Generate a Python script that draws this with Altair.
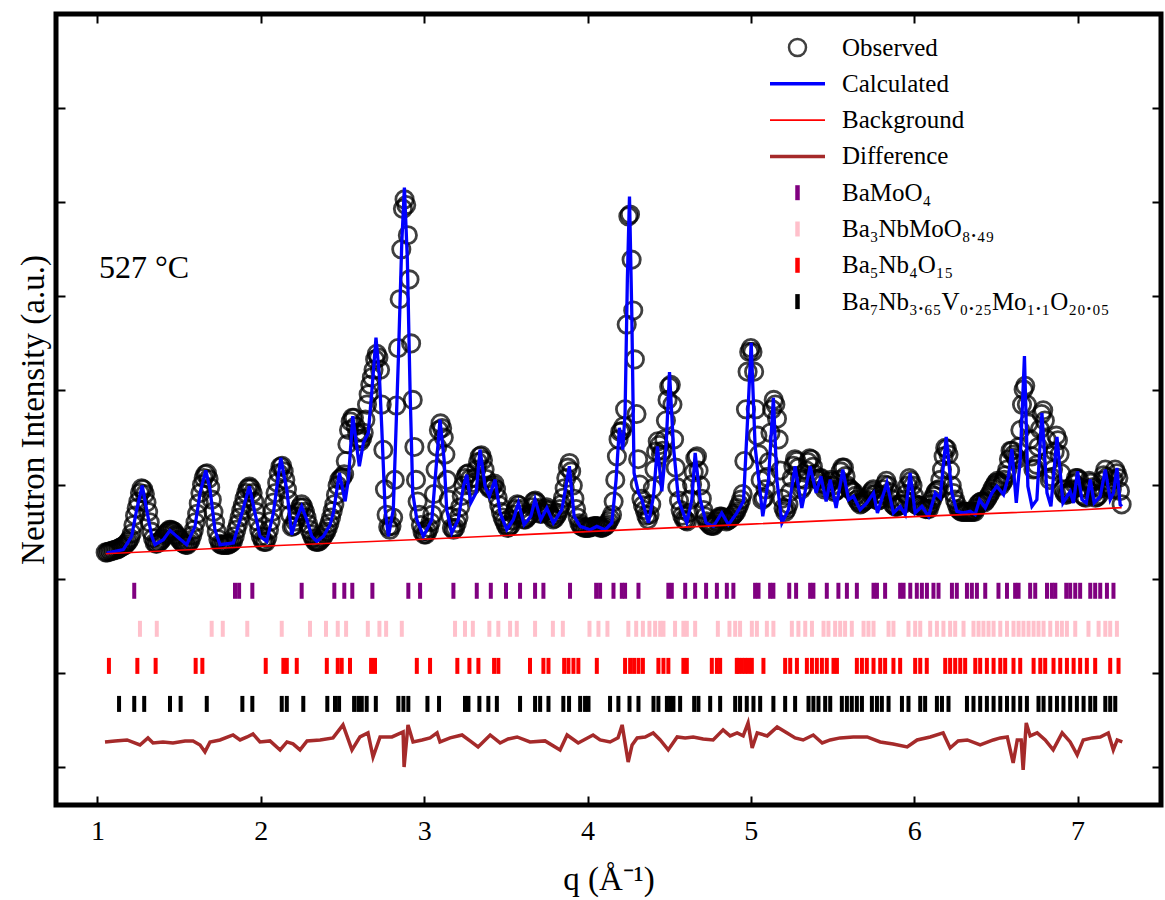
import altair as alt
import numpy as np
import pandas as pd

# ---------------------------------------------------------------------------
# Rietveld refinement of the 527 °C neutron pattern
# ---------------------------------------------------------------------------

# Observed intensity on the regular q grid of the measurement
Q_START = 1.05
Q_STEP = 0.01
OBS_I = [
    2.28, 2.28, 2.29, 2.29, 2.30, 2.30, 2.31, 2.31, 2.32, 2.33,
    2.34, 2.35, 2.36, 2.38, 2.40, 2.43, 2.48, 2.57, 2.67, 2.75,
    2.82, 2.91, 2.96, 2.95, 2.90, 2.81, 2.71, 2.60, 2.50, 2.43,
    2.38, 2.37, 2.38, 2.39, 2.41, 2.43, 2.46, 2.48, 2.50, 2.52,
    2.52, 2.51, 2.50, 2.47, 2.45, 2.42, 2.40, 2.38, 2.37, 2.36,
    2.36, 2.38, 2.41, 2.46, 2.52, 2.60, 2.69, 2.80, 2.91, 3.00,
    3.07, 3.11, 3.12, 3.06, 2.97, 2.84, 2.71, 2.60, 2.50, 2.42,
    2.37, 2.36, 2.36, 2.36, 2.36, 2.36, 2.37, 2.38, 2.40, 2.45,
    2.52, 2.58, 2.65, 2.72, 2.78, 2.85, 2.91, 2.96, 2.98, 2.96,
    2.91, 2.82, 2.71, 2.61, 2.52, 2.45, 2.41, 2.39, 2.39, 2.44,
    2.52, 2.61, 2.71, 2.81, 2.91, 3.02, 3.12, 3.19, 3.20, 3.14,
    3.05, 2.95, 2.84, 2.68, 2.55, 2.56, 2.61, 2.66, 2.71, 2.76,
    2.79, 2.76, 2.71, 2.65, 2.58, 2.52, 2.47, 2.43, 2.40, 2.39,
    2.39, 2.40, 2.42, 2.44, 2.47, 2.50, 2.54, 2.59, 2.65, 2.72,
    2.79, 2.89, 2.99, 3.05, 3.07, 3.08, 3.11, 3.25, 3.43, 3.58,
    3.67, 3.71, 3.71, 3.62, 3.55, 3.49, 3.46, 3.49, 3.55, 3.69,
    3.85, 3.96, 4.06, 4.14, 4.22, 4.33, 4.39, 4.35, 4.22, 3.85,
    3.37, 2.95, 2.68, 2.55, 2.52, 2.56, 2.65, 3.05, 3.84, 4.45,
    4.97, 5.50, 5.93, 6.03, 5.97, 5.65, 5.18, 4.50, 3.90, 3.40,
    3.05, 2.82, 2.68, 2.57, 2.50, 2.47, 2.47, 2.50, 2.54, 2.60,
    2.68, 2.90, 3.16, 3.40, 3.58, 3.65, 3.60, 3.50, 3.32, 3.05,
    2.84, 2.66, 2.54, 2.52, 2.54, 2.59, 2.65, 2.76, 2.88, 2.99,
    3.07, 3.11, 3.12, 3.06, 2.99, 3.02, 3.07, 3.16, 3.24, 3.30,
    3.31, 3.26, 3.16, 3.06, 2.99, 2.96, 2.96, 2.99, 3.01, 2.95,
    2.86, 2.78, 2.71, 2.65, 2.61, 2.57, 2.54, 2.55, 2.57, 2.62,
    2.68, 2.74, 2.79, 2.78, 2.74, 2.68, 2.63, 2.63, 2.65, 2.67,
    2.69, 2.76, 2.82, 2.83, 2.81, 2.75, 2.69, 2.69, 2.71, 2.74,
    2.76, 2.73, 2.69, 2.66, 2.63, 2.64, 2.67, 2.70, 2.74, 2.79,
    2.86, 2.96, 3.07, 3.18, 3.23, 3.14, 2.99, 2.85, 2.74, 2.65,
    2.59, 2.56, 2.55, 2.54, 2.54, 2.54, 2.54, 2.55, 2.55, 2.56,
    2.56, 2.56, 2.55, 2.54, 2.54, 2.55, 2.56, 2.58, 2.61, 2.64,
    2.68, 2.82, 3.05, 3.30, 3.48, 3.56, 3.57, 3.62, 3.80, 4.70,
    5.85, 5.87, 5.39, 4.85, 4.33, 3.75, 3.27, 3.00, 2.85, 2.78,
    2.73, 2.67, 2.63, 2.68, 2.79, 2.96, 3.16, 3.35, 3.46, 3.42,
    3.32, 3.36, 3.48, 3.68, 3.90, 4.04, 4.06, 3.85, 3.48, 3.18,
    2.97, 2.83, 2.73, 2.67, 2.63, 2.62, 2.61, 2.70, 2.84, 3.00,
    3.13, 3.28, 3.30, 3.15, 2.99, 2.85, 2.73, 2.66, 2.61, 2.59,
    2.57, 2.56, 2.56, 2.58, 2.61, 2.64, 2.66, 2.66, 2.65, 2.63,
    2.61, 2.62, 2.63, 2.65, 2.67, 2.69, 2.71, 2.75, 2.79, 2.84,
    2.90, 3.25, 3.80, 4.20, 4.41, 4.45, 4.41, 4.20, 3.80, 3.52,
    3.32, 3.05, 2.84, 2.86, 2.95, 3.08, 3.24, 3.55, 3.80, 3.90,
    3.85, 3.70, 3.48, 3.15, 2.85, 2.75, 2.71, 2.74, 2.79, 2.92,
    3.07, 3.20, 3.27, 3.25, 3.18, 3.06, 2.95, 2.98, 3.05, 3.15,
    3.24, 3.28, 3.27, 3.19, 3.11, 3.06, 3.05, 3.07, 3.07, 3.01,
    2.95, 2.97, 2.99, 3.03, 3.05, 2.99, 2.92, 2.93, 2.95, 3.05,
    3.14, 3.18, 3.18, 3.09, 2.99, 2.96, 2.95, 2.93, 2.92, 2.88,
    2.84, 2.81, 2.79, 2.80, 2.82, 2.83, 2.84, 2.87, 2.90, 2.93,
    2.95, 2.90, 2.84, 2.83, 2.84, 2.89, 2.95, 3.00, 3.04, 2.99,
    2.92, 2.85, 2.79, 2.77, 2.76, 2.77, 2.79, 2.79, 2.79, 2.84,
    2.90, 2.99, 3.07, 3.04, 2.99, 2.88, 2.79, 2.78, 2.78, 2.77,
    2.76, 2.75, 2.74, 2.74, 2.74, 2.79, 2.84, 2.88, 2.92, 2.94,
    2.95, 3.05, 3.16, 3.30, 3.39, 3.38, 3.32, 3.15, 2.99, 2.91,
    2.84, 2.79, 2.74, 2.72, 2.71, 2.71, 2.71, 2.71, 2.71, 2.71,
    2.71, 2.71, 2.71, 2.75, 2.79, 2.81, 2.82, 2.82, 2.81, 2.83,
    2.86, 2.89, 2.92, 2.96, 2.99, 3.02, 3.04, 3.02, 2.99, 3.02,
    3.05, 3.10, 3.16, 3.27, 3.36, 3.36, 3.32, 3.29, 3.27, 3.40,
    3.58, 3.85, 4.01, 4.05, 3.85, 3.65, 3.48, 3.30, 3.16, 3.17,
    3.21, 3.40, 3.59, 3.75, 3.79, 3.68, 3.48, 3.25, 3.05, 3.08,
    3.16, 3.35, 3.52, 3.47, 3.32, 3.12, 2.95, 2.91, 2.89, 2.90,
    2.92, 2.94, 2.95, 3.01, 3.07, 3.07, 3.05, 2.97, 2.89, 2.87,
    2.86, 2.95, 3.04, 3.02, 2.97, 2.91, 2.86, 2.87, 2.89, 2.96,
    3.04, 3.10, 3.16, 3.08, 2.99, 2.97, 2.95, 3.05, 3.16, 3.12,
    3.07, 2.93, 2.79,
]

# Calculated profile
CALC_Q = [
    1.056, 1.158, 1.209, 1.240, 1.274, 1.301, 1.332, 1.352, 1.403, 1.444,
    1.485, 1.546, 1.597, 1.628, 1.663, 1.689, 1.719, 1.750, 1.832, 1.873,
    1.930, 1.964, 1.995, 2.036, 2.077, 2.122, 2.159, 2.189, 2.216, 2.250,
    2.281, 2.312, 2.342, 2.383, 2.424, 2.444, 2.481, 2.516, 2.536, 2.563,
    2.587, 2.603, 2.628, 2.658, 2.679, 2.705, 2.726, 2.740, 2.761, 2.781,
    2.811, 2.842, 2.863, 2.879, 2.897, 2.914, 2.930, 2.955, 2.995, 3.047,
    3.077, 3.097, 3.122, 3.138, 3.169, 3.209, 3.240, 3.261, 3.285, 3.318,
    3.342, 3.373, 3.399, 3.434, 3.465, 3.506, 3.546, 3.577, 3.612, 3.653,
    3.679, 3.714, 3.751, 3.791, 3.843, 3.889, 3.918, 3.955, 4.016, 4.057,
    4.108, 4.149, 4.175, 4.195, 4.216, 4.230, 4.244, 4.257, 4.271, 4.285,
    4.312, 4.333, 4.373, 4.404, 4.428, 4.455, 4.481, 4.502, 4.526, 4.557,
    4.608, 4.639, 4.659, 4.690, 4.726, 4.771, 4.822, 4.863, 4.914, 4.955,
    4.982, 5.002, 5.026, 5.073, 5.108, 5.138, 5.159, 5.190, 5.230, 5.271,
    5.312, 5.363, 5.400, 5.429, 5.461, 5.486, 5.522, 5.563, 5.598, 5.628,
    5.669, 5.710, 5.751, 5.775, 5.833, 5.873, 5.914, 5.945, 5.975, 6.006,
    6.047, 6.088, 6.129, 6.159, 6.196, 6.231, 6.261, 6.302, 6.343, 6.373,
    6.400, 6.435, 6.476, 6.506, 6.547, 6.577, 6.598, 6.625, 6.649, 6.675,
    6.696, 6.721, 6.751, 6.782, 6.813, 6.837, 6.874, 6.911, 6.955, 6.975,
    7.000, 7.027, 7.053, 7.078, 7.102, 7.139, 7.170, 7.200, 7.220, 7.241,
    7.261, 7.272,
]
CALC_I = [
    2.273, 2.309, 2.450, 2.734, 2.989, 2.734, 2.450, 2.362, 2.415, 2.514,
    2.450, 2.362, 2.556, 2.912, 3.152, 2.947, 2.521, 2.362, 2.380, 2.628,
    2.982, 2.699, 2.450, 2.397, 2.699, 3.284, 2.947, 2.468, 2.628, 2.769,
    2.628, 2.450, 2.397, 2.450, 2.574, 2.699, 3.124, 2.822, 3.053, 3.727,
    3.407, 3.195, 3.444, 3.550, 3.976, 4.561, 4.152, 3.620, 2.734, 2.450,
    2.734, 4.330, 5.571, 6.156, 5.394, 3.976, 2.912, 2.628, 2.450, 2.628,
    3.266, 3.691, 3.266, 2.734, 2.486, 2.628, 2.982, 3.106, 2.805, 2.912,
    3.372, 2.982, 2.876, 3.053, 2.699, 2.521, 2.628, 2.805, 2.574, 2.663,
    2.840, 2.628, 2.752, 2.593, 2.734, 3.195, 2.663, 2.556, 2.521, 2.556,
    2.521, 2.593, 3.053, 3.603, 3.372, 3.763, 5.181, 6.061, 4.827, 3.124,
    2.912, 2.840, 2.593, 2.876, 3.407, 2.929, 3.407, 4.195, 3.407, 2.840,
    2.593, 2.840, 3.337, 2.840, 2.593, 2.556, 2.699, 2.574, 2.699, 2.822,
    3.763, 4.507, 3.407, 2.663, 3.053, 3.922, 3.053, 2.593, 2.734, 3.195,
    2.752, 3.195, 2.912, 3.088, 2.822, 3.053, 2.752, 3.160, 2.840, 2.876,
    2.734, 2.805, 2.912, 2.699, 3.018, 2.699, 2.769, 2.681, 3.124, 2.699,
    2.769, 2.663, 2.912, 2.859, 3.507, 2.912, 2.716, 2.699, 2.716, 2.681,
    2.840, 2.752, 2.912, 2.982, 2.894, 3.088, 3.380, 2.805, 3.266, 4.365,
    2.982, 2.769, 2.840, 3.763, 2.912, 2.769, 3.507, 2.805, 2.929, 2.805,
    3.141, 2.840, 2.805, 3.053, 2.805, 2.876, 3.160, 2.840, 2.912, 3.178,
    2.787, 2.769,
]

# Refined background
BG_Q = [1.05, 2.0, 3.0, 4.0, 5.0, 6.0, 7.0, 7.27]
BG_I = [2.265, 2.345, 2.42, 2.50, 2.58, 2.66, 2.73, 2.755]

# Difference curve (obs - calc), shifted below the reflection markers
DIFF_Q = [
    1.046, 1.107, 1.181, 1.260, 1.309, 1.340, 1.401, 1.462, 1.536, 1.585,
    1.628, 1.658, 1.689, 1.750, 1.830, 1.873, 1.916, 1.952, 1.995, 2.056,
    2.118, 2.160, 2.197, 2.240, 2.283, 2.363, 2.442, 2.503, 2.558, 2.607,
    2.656, 2.687, 2.730, 2.803, 2.871, 2.877, 2.901, 2.932, 2.987, 3.036,
    3.079, 3.097, 3.159, 3.232, 3.281, 3.330, 3.404, 3.465, 3.514, 3.569,
    3.648, 3.740, 3.832, 3.875, 3.943, 4.034, 4.077, 4.138, 4.187, 4.212,
    4.249, 4.273, 4.304, 4.353, 4.402, 4.445, 4.494, 4.549, 4.598, 4.647,
    4.708, 4.769, 4.830, 4.873, 4.916, 4.953, 4.983, 5.008, 5.039, 5.100,
    5.161, 5.222, 5.271, 5.320, 5.382, 5.437, 5.486, 5.547, 5.627, 5.712,
    5.792, 5.871, 5.957, 6.018, 6.098, 6.177, 6.220, 6.269, 6.325, 6.404,
    6.484, 6.527, 6.570, 6.606, 6.631, 6.655, 6.667, 6.686, 6.710, 6.753,
    6.802, 6.851, 6.906, 6.955, 6.998, 7.035, 7.090, 7.139, 7.188, 7.219,
    7.243, 7.274,
]
DIFF_I = [
    0.266, 0.277, 0.287, 0.234, 0.309, 0.255, 0.266, 0.255, 0.277, 0.277,
    0.234, 0.160, 0.266, 0.287, 0.340, 0.287, 0.319, 0.351, 0.266, 0.277,
    0.181, 0.266, 0.245, 0.181, 0.277, 0.287, 0.309, 0.447, 0.181, 0.319,
    0.362, 0.106, 0.319, 0.319, 0.372, 0.000, 0.447, 0.266, 0.287, 0.309,
    0.362, 0.266, 0.309, 0.340, 0.277, 0.213, 0.340, 0.255, 0.298, 0.319,
    0.266, 0.277, 0.181, 0.340, 0.255, 0.340, 0.287, 0.266, 0.309, 0.447,
    0.053, 0.234, 0.309, 0.319, 0.362, 0.287, 0.181, 0.319, 0.309, 0.319,
    0.298, 0.287, 0.394, 0.330, 0.362, 0.330, 0.468, 0.202, 0.362, 0.330,
    0.426, 0.362, 0.309, 0.287, 0.340, 0.255, 0.287, 0.309, 0.319, 0.319,
    0.266, 0.245, 0.213, 0.287, 0.319, 0.362, 0.202, 0.277, 0.287, 0.234,
    0.287, 0.309, 0.319, 0.043, 0.287, 0.287, -0.032, 0.468, 0.330, 0.362,
    0.287, 0.181, 0.362, 0.266, 0.128, 0.287, 0.309, 0.319, 0.362, 0.181,
    0.287, 0.266,
]

# Bragg reflection positions of the four phases
PHASES = ["BaMoO₄", "Ba₃NbMoO₈.₄₉", "Ba₅Nb₄O₁₅", "Ba₇Nb₃.₆₅V₀.₂₅Mo₁.₁O₂₀.₀₅"]
PHASE_COLORS = ["#800080", "#ffc0cb", "#ff0000", "#000000"]
PHASE_ROW = [1.872, 1.468, 1.074, 0.670]
REFL_BAMOO4 = [
    1.225, 1.842, 1.867, 1.948, 2.250, 2.450, 2.511, 2.560, 2.683, 2.903,
    2.975, 3.179, 3.322, 3.408, 3.501, 3.587, 3.679, 3.730, 3.893, 4.053,
    4.077, 4.159, 4.210, 4.230, 4.312, 4.495, 4.516, 4.598, 4.659, 4.726,
    4.792, 4.853, 4.893, 5.026, 5.047, 5.118, 5.138, 5.235, 5.277, 5.363,
    5.383, 5.465, 5.536, 5.588, 5.649, 5.751, 5.772, 5.822, 5.914, 5.935,
    5.976, 6.016, 6.047, 6.078, 6.118, 6.149, 6.231, 6.261, 6.323, 6.353,
    6.384, 6.435, 6.516, 6.568, 6.618, 6.639, 6.710, 6.741, 6.813, 6.843,
    6.864, 6.931, 6.955, 6.986, 7.016, 7.078, 7.108, 7.139, 7.180, 7.220,
]
REFL_BA3 = [
    1.260, 1.363, 1.699, 1.767, 1.917, 2.128, 2.301, 2.399, 2.471, 2.522,
    2.655, 2.726, 2.767, 2.863, 3.189, 3.250, 3.298, 3.399, 3.454, 3.526,
    3.567, 3.679, 3.788, 3.849, 4.012, 4.067, 4.122, 4.250, 4.298, 4.339,
    4.379, 4.414, 4.445, 4.465, 4.536, 4.587, 4.608, 4.659, 4.798, 4.869,
    4.904, 4.934, 5.006, 5.037, 5.098, 5.138, 5.251, 5.291, 5.333, 5.374,
    5.445, 5.475, 5.516, 5.547, 5.577, 5.618, 5.690, 5.720, 5.751, 5.843,
    5.873, 5.965, 6.006, 6.037, 6.098, 6.139, 6.179, 6.220, 6.251, 6.302,
    6.363, 6.394, 6.424, 6.455, 6.486, 6.527, 6.568, 6.608, 6.639, 6.669,
    6.700, 6.731, 6.761, 6.792, 6.833, 6.874, 6.904, 6.935, 6.986, 7.067,
    7.129, 7.170, 7.200, 7.241,
]
REFL_BA5 = [
    1.070, 1.244, 1.356, 1.601, 1.642, 2.030, 2.138, 2.159, 2.220, 2.404,
    2.471, 2.495, 2.546, 2.675, 2.699, 2.955, 3.036, 3.203, 3.277, 3.332,
    3.428, 3.454, 3.648, 3.730, 3.761, 3.857, 3.883, 3.914, 3.944, 4.057,
    4.230, 4.261, 4.285, 4.312, 4.339, 4.434, 4.465, 4.495, 4.587, 4.608,
    4.761, 4.792, 4.812, 4.914, 4.924, 4.945, 4.965, 4.985, 5.006, 5.077,
    5.210, 5.241, 5.282, 5.343, 5.374, 5.404, 5.435, 5.465, 5.506, 5.527,
    5.649, 5.680, 5.710, 5.751, 5.792, 5.822, 5.873, 5.914, 6.006, 6.037,
    6.077, 6.190, 6.220, 6.251, 6.282, 6.312, 6.374, 6.404, 6.445, 6.486,
    6.527, 6.557, 6.608, 6.649, 6.731, 6.772, 6.802, 6.853, 6.894, 6.935,
    6.976, 7.016, 7.057, 7.108, 7.200, 7.251,
]
REFL_BA7 = [
    1.132, 1.225, 1.286, 1.444, 1.509, 1.669, 1.887, 1.948, 2.128, 2.159,
    2.260, 2.407, 2.454, 2.479, 2.571, 2.597, 2.618, 2.648, 2.704, 2.842,
    2.873, 2.903, 3.020, 3.091, 3.250, 3.271, 3.338, 3.393, 3.445, 3.587,
    3.679, 3.710, 3.761, 3.852, 3.887, 3.955, 3.985, 4.006, 4.138, 4.189,
    4.257, 4.312, 4.404, 4.434, 4.486, 4.506, 4.526, 4.567, 4.653, 4.679,
    4.751, 4.812, 4.904, 4.934, 4.975, 5.016, 5.057, 5.138, 5.210, 5.271,
    5.353, 5.383, 5.414, 5.455, 5.486, 5.557, 5.588, 5.618, 5.649, 5.680,
    5.741, 5.772, 5.802, 5.843, 5.925, 5.965, 6.037, 6.067, 6.139, 6.170,
    6.210, 6.323, 6.363, 6.404, 6.445, 6.486, 6.527, 6.568, 6.608, 6.649,
    6.690, 6.761, 6.792, 6.833, 6.874, 6.914, 6.955, 6.996, 7.037, 7.078,
    7.108, 7.170, 7.200, 7.231,
]
REFLECTIONS = [REFL_BAMOO4, REFL_BA3, REFL_BA5, REFL_BA7]

# Legend entries and their styling
SERIES = ["Observed", "Calculated", "Background", "Difference"] + PHASES
SERIES_COLORS = ["#404040", "#0000ff", "#ff0000", "#a52a2a"] + PHASE_COLORS
RING = "M0.85,0A0.85,0.85,0,1,1,-0.85,0A0.85,0.85,0,1,1,0.85,0Z"
HLINE = "M-2.75,0L2.75,0"
VBAR = "M0,-0.75L0,0.75"
SERIES_SHAPES = [RING, HLINE, HLINE, HLINE, VBAR, VBAR, VBAR, VBAR]

X_TICKS = [1, 2, 3, 4, 5, 6, 7]
Y_TICKS = [0, 1, 2, 3, 4, 5, 6, 7]
TEMP_LABEL = "527 °C"
TEMP_POS = (1.009, 5.197)

# ---------------------------------------------------------------------------
obs_q = np.round(Q_START + Q_STEP * np.arange(len(OBS_I)), 3)
obs_df = pd.DataFrame({"q": obs_q, "I": OBS_I})
calc_df = pd.DataFrame({"q": CALC_Q, "I": CALC_I})
bg_df = pd.DataFrame({"q": BG_Q, "I": BG_I})
diff_df = pd.DataFrame({"q": DIFF_Q, "I": DIFF_I})
legend_df = pd.DataFrame({"series": SERIES, "lx": 0.0, "ly": -5.0})
text_df = pd.DataFrame({"q": [TEMP_POS[0]], "I": [TEMP_POS[1]], "t": [TEMP_LABEL]})

SERIF = "Liberation Serif"
xs = alt.Scale(domain=[0.746, 7.511], nice=False, zero=False)
ys = alt.Scale(domain=[-0.404, 8.0], nice=False, zero=False)

tick_style = dict(domain=False, grid=False, ticks=True, tickSize=9, tickWidth=2,
                  tickColor="black", offset=-9)

x_bottom = alt.Axis(orient="bottom", values=X_TICKS, format="d", labelFont=SERIF,
                    labelFontSize=28, labelColor="black", labelPadding=12,
                    title="q (Å⁻¹)", titleFont=SERIF, titleFontSize=33,
                    titleFontWeight="normal", titleColor="black", titlePadding=18,
                    **tick_style)
y_left = alt.Axis(orient="left", values=Y_TICKS, labels=False,
                  title="Neutron Intensity (a.u.)", titleFont=SERIF,
                  titleFontSize=33, titleFontWeight="normal", titleColor="black",
                  titlePadding=5, **tick_style)
x_top = alt.Axis(orient="top", values=X_TICKS, labels=False, title=None, **tick_style)
y_right = alt.Axis(orient="right", values=Y_TICKS, labels=False, title=None, **tick_style)

# one row of reflection markers per phase
refl_layers = []
for refl_q, row, colour in zip(REFLECTIONS, PHASE_ROW, PHASE_COLORS):
    df = pd.DataFrame({"q": refl_q, "row": row})
    refl_layers.append(
        alt.Chart(df).mark_tick(orient="vertical", size=16, thickness=4,
                                opacity=1, color=colour).encode(
            x=alt.X("q:Q", scale=xs, axis=None),
            y=alt.Y("row:Q", scale=ys, axis=None),
        )
    )

diff = alt.Chart(diff_df).mark_line(color="#a52a2a", strokeWidth=3.5).encode(
    x=alt.X("q:Q", scale=xs, axis=None),
    y=alt.Y("I:Q", scale=ys, axis=None),
)

obs = alt.Chart(obs_df).mark_point(shape="circle", filled=False, size=300,
                                   strokeWidth=2.8, color="#000000", opacity=0.75).encode(
    x=alt.X("q:Q", scale=xs, axis=None),
    y=alt.Y("I:Q", scale=ys, axis=None),
)

calc = alt.Chart(calc_df).mark_line(color="#0000ff", strokeWidth=3.3).encode(
    x=alt.X("q:Q", scale=xs, axis=x_bottom),
    y=alt.Y("I:Q", scale=ys, axis=y_left),
)

bg = alt.Chart(bg_df).mark_line(color="#ff0000", strokeWidth=1.6).encode(
    x=alt.X("q:Q", scale=xs, axis=x_top),
    y=alt.Y("I:Q", scale=ys, axis=y_right),
)

temp = alt.Chart(text_df).mark_text(align="left", baseline="alphabetic", font=SERIF,
                                    fontSize=32, color="black").encode(
    x=alt.X("q:Q", scale=xs, axis=None),
    y=alt.Y("I:Q", scale=ys, axis=None),
    text="t:N",
)

legend_props = dict(
    orient="none", legendX=729, legendY=21, title=None, padding=0,
    labelFont=SERIF, labelFontSize=25, labelColor="black", labelLimit=500,
    labelOffset=32, rowPadding=3.3, gridAlign="all", symbolSize=400, symbolOpacity=1,
    symbolStrokeWidth={"expr": "datum.value === 'Background' ? 1.6 : "
                               "(datum.value === 'Observed' ? 2.5 : "
                               "(datum.value === 'Calculated' || datum.value === 'Difference' ? 3.5 : 4.5))"},
)

# invisible carrier of the legend (points sit outside the clipped view)
key = alt.Chart(legend_df).mark_point(filled=False, opacity=1, clip=True).encode(
    x=alt.X("lx:Q", scale=xs, axis=None),
    y=alt.Y("ly:Q", scale=ys, axis=None),
    color=alt.Color("series:N", scale=alt.Scale(domain=SERIES, range=SERIES_COLORS),
                    sort=SERIES, legend=alt.Legend(**legend_props)),
    shape=alt.Shape("series:N", scale=alt.Scale(domain=SERIES, range=SERIES_SHAPES),
                    sort=SERIES, legend=alt.Legend(**legend_props)),
)

chart = (
    alt.layer(*refl_layers, diff, obs, calc, bg, temp, key)
    .properties(
        width=1105, height=791,
        autosize=alt.AutoSizeParams(type="none"),
        padding={"left": 56, "top": 14, "right": 4, "bottom": 95},
        background="white",
    )
    .configure_view(stroke="black", strokeWidth=5)
)

chart.save("out.html", embed_options={"renderer": "svg", "actions": False})
